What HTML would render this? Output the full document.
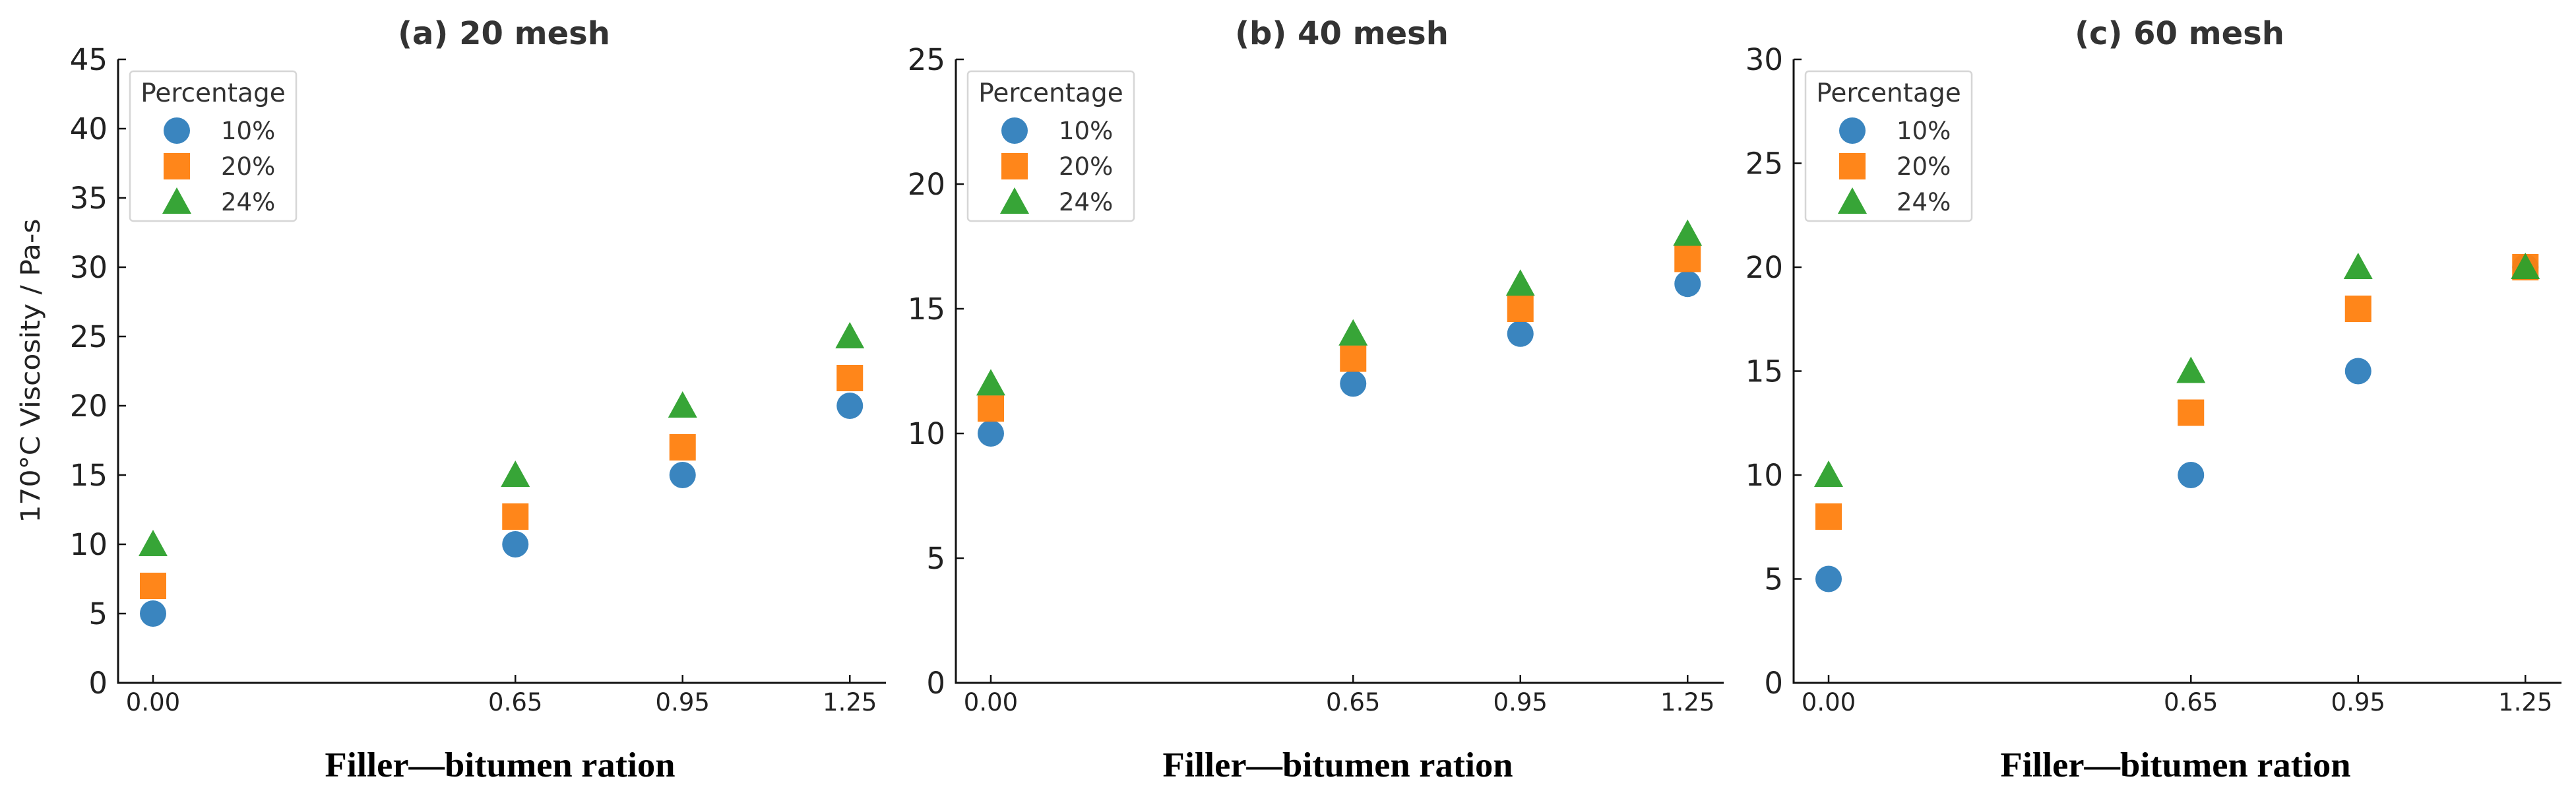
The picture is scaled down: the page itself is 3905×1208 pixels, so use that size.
<!DOCTYPE html>
<html><head><meta charset="utf-8"><style>
html,body{margin:0;padding:0;background:#fff}
svg{display:block}
</style></head><body>
<svg id="chart" width="3905" height="1208" viewBox="0 0 3905 1208" xmlns="http://www.w3.org/2000/svg"></svg>
<script>
const categories = [0.00, 0.65, 0.95, 1.25];
const tickLabels = ["0.00", "0.65", "0.95", "1.25"];
const panelTitles = ["(a) 20 mesh", "(b) 40 mesh", "(c) 60 mesh"];
const panelYMax = [45, 25, 30];
const seriesNames = ["10%", "20%", "24%"];
const a10 = [5, 10, 15, 20];
const a20 = [7, 12, 17, 22];
const a24 = [10, 15, 20, 25];
const b10 = [10, 12, 14, 16];
const b20 = [11, 13, 15, 17];
const b24 = [12, 14, 16, 18];
const c10 = [5, 10, 15, 20];
const c20 = [8, 13, 18, 20];
const c24 = [10, 15, 20, 20];
const panelData = [[a10, a20, a24], [b10, b20, b24], [c10, c20, c24]];

const NS = "http://www.w3.org/2000/svg";
const svg = document.getElementById("chart");
const colors = ["#2f7ebc", "#ff7f0e", "#2ca02c"];
const shapes = ["circle", "square", "triangle"];
function mk(tag, attrs, parent) {
  const e = document.createElementNS(NS, tag);
  for (const k in attrs) e.setAttribute(k, attrs[k]);
  (parent || svg).appendChild(e);
  return e;
}
function marker(shape, cx, cy, color, g) {
  let e;
  if (shape === "circle") e = mk("circle", {cx: cx, cy: cy, r: 20, fill: color}, g);
  else if (shape === "square") e = mk("rect", {x: cx - 20, y: cy - 20, width: 40, height: 40, fill: color}, g);
  else e = mk("polygon", {points: (cx) + "," + (cy - 22) + " " + (cx + 22) + "," + (cy + 18) + " " + (cx - 22) + "," + (cy + 18), fill: color}, g);
  e.setAttribute("opacity", "0.95");
  return e;
}
const PANEL_DX = 1270;
const AX_L = 179, AX_R = 1343, Y0 = 1035, YTOP = 90;
for (let p = 0; p < 3; p++) {
  const off = p * PANEL_DX;
  const g = mk("g", {});
  
  
  const ymax = panelYMax[p];
  const xs = v => off + 232 + 845 * v;
  const ys = v => Y0 - (Y0 - YTOP) * v / ymax;
  const t = mk("text", {x: off + 764, y: 67, "text-anchor": "middle", "font-family": "DejaVu Sans, Liberation Sans, sans-serif", "font-weight": "bold", "font-size": 48, fill: "#333"}, g);
  t.textContent = panelTitles[p];
  
  
  const ax = mk("path", {d: "M" + (off + AX_L) + "," + YTOP + " V" + Y0 + " H" + (off + AX_R), stroke: "#111", "stroke-width": 3, fill: "none"}, g);
  
  
  for (let v = 0; v <= ymax; v += 5) {
    const y = ys(v);
    mk("line", {x1: off + AX_L, x2: off + AX_L + 12, y1: y, y2: y, stroke: "#111", "stroke-width": 2.5}, g);
    const tl = mk("text", {x: off + 163, y: y + 16, "text-anchor": "end", "font-family": "DejaVu Sans, Liberation Sans, sans-serif", "font-size": 45, fill: "#222"}, g);
    tl.textContent = v;
    
    
  }
  categories.forEach((c, i) => {
    const x = xs(c);
    mk("line", {x1: x, x2: x, y1: Y0, y2: Y0 - 12, stroke: "#111", "stroke-width": 2.5}, g);
    const tl = mk("text", {x: x, y: 1077, "text-anchor": "middle", "font-family": "DejaVu Sans, Liberation Sans, sans-serif", "font-size": 37, fill: "#222"}, g);
    tl.textContent = tickLabels[i];
    
    
  });
  const xl = mk("text", {x: off + 758, y: 1177, "text-anchor": "middle", "font-family": "Liberation Serif, serif", "font-weight": "bold", "font-size": 53, textLength: 531, lengthAdjust: "spacingAndGlyphs", fill: "#000"}, g);
  xl.textContent = "Filler\u2014bitumen ration";
  
  
  panelData[p].forEach((vals, s) => {
    vals.forEach((v, i) => {
      const m = marker(shapes[s], xs(categories[i]), ys(v), colors[s], g);
      
      
    });
  });
  const lg = mk("g", {}, g);
  
  
  mk("rect", {x: off + 197, y: 108, width: 252, height: 227, rx: 5, fill: "#fff", "fill-opacity": 0.85, stroke: "#d6d6d6", "stroke-width": 2.5}, lg);
  const lt = mk("text", {x: off + 323, y: 154, "text-anchor": "middle", "font-family": "DejaVu Sans, Liberation Sans, sans-serif", "font-size": 39, fill: "#333"}, lg);
  lt.textContent = "Percentage";
  
  
  seriesNames.forEach((n, s) => {
    const cy = 198 + s * 54;
    const m = marker(shapes[s], off + 268, cy, colors[s], lg);
    
    
    const tx = mk("text", {x: off + 335, y: cy + 13, "font-family": "DejaVu Sans, Liberation Sans, sans-serif", "font-size": 37, fill: "#333"}, lg);
    tx.textContent = n;
    
    
  });
}
const yl = mk("text", {x: 0, y: 0, transform: "translate(60,562) rotate(-90)", "text-anchor": "middle", "font-family": "DejaVu Sans, Liberation Sans, sans-serif", "font-size": 40, textLength: 461, lengthAdjust: "spacingAndGlyphs", fill: "#222"});
yl.textContent = "170\u00b0C Viscosity / Pa-s";


</script>
</body></html>
